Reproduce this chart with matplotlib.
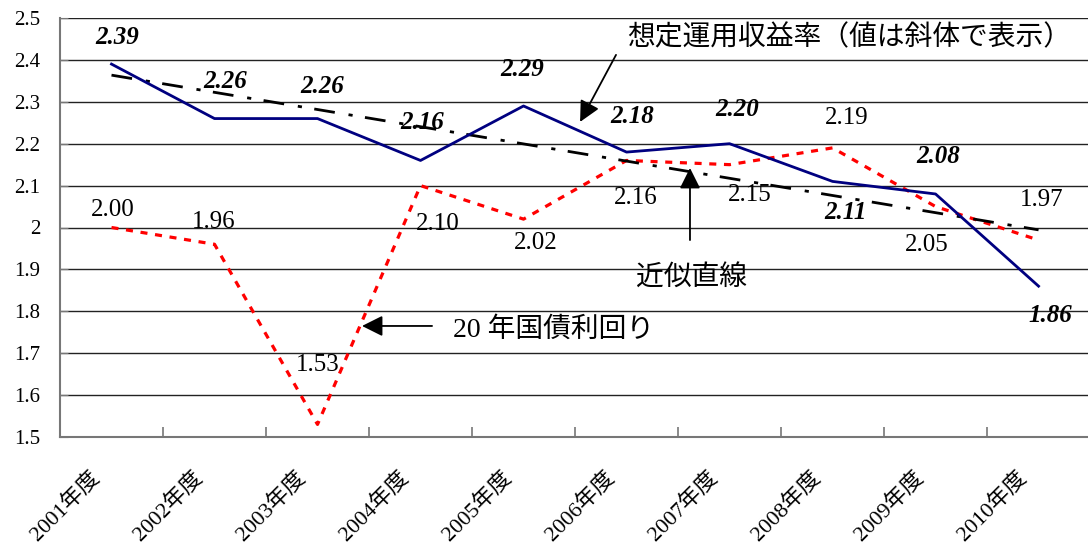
import numpy as np
import matplotlib
matplotlib.use("Agg")
import matplotlib.pyplot as plt
from matplotlib.ticker import FuncFormatter, FixedLocator
from matplotlib.transforms import ScaledTranslation

plt.rcParams['font.family'] = ['Liberation Serif', 'Noto Sans CJK JP']

# 年度と各系列の値
years = ['2001年度', '2002年度', '2003年度', '2004年度', '2005年度',
         '2006年度', '2007年度', '2008年度', '2009年度', '2010年度']
assumed_return = [2.39, 2.26, 2.26, 2.16, 2.29, 2.18, 2.20, 2.11, 2.08, 1.86]
jgb20_yield = [2.00, 1.96, 1.53, 2.10, 2.02, 2.16, 2.15, 2.19, 2.05, 1.97]

# ラベルの位置（点からのずれ, ピクセル）
ret_offsets = [(6, 27), (11, 37), (5, 32), (2, 38), (-1, 36),
               (6, 36), (8, 34), (13, -31), (3, 37), (12, -29)]
jgb_offsets = [(1, 18), (-1, 22), (0, 59), (17, -38), (12, -24),
               (9, -38), (20, -30), (14, 30), (-9, -38), (3, 40)]

x = np.arange(len(years))

fig = plt.figure(figsize=(10.88, 5.49), dpi=100)
ax = fig.add_axes([60 / 1088, (549 - 437) / 549, 1028 / 1088, 419 / 549])

# 近似直線（想定運用収益率の一次回帰）
coef = np.polyfit(x, assumed_return, 1)
trend = np.polyval(coef, x)

ax.plot(x, jgb20_yield, color='#ff0000', lw=2.3, linestyle=(0, (2.2, 2.4)), zorder=3)
ax.plot(x, trend, color='black', lw=2.0, linestyle=(0, (7.5, 5, 1.5, 4.5)), zorder=4)
ax.plot(x, assumed_return, color='#000080', lw=2.0, zorder=5)

for xi, v, (dx, dy) in zip(x, assumed_return, ret_offsets):
    ax.annotate(f'{v:.2f}', (xi, v), xytext=(dx, dy), textcoords='offset pixels',
                ha='center', va='center', fontsize=18, fontweight='bold',
                fontstyle='italic', zorder=6)
for xi, v, (dx, dy) in zip(x, jgb20_yield, jgb_offsets):
    ax.annotate(f'{v:.2f}', (xi, v), xytext=(dx, dy), textcoords='offset pixels',
                ha='center', va='center', fontsize=18, zorder=6)

# 注記と矢印
arrow = dict(arrowstyle='-|>,head_length=0.6,head_width=0.3', color='black',
             lw=1.3, mutation_scale=21, shrinkA=0, shrinkB=0)
ax.annotate('', xy=(4.549, 2.252), xytext=(4.898, 2.412), arrowprops=arrow, zorder=7)
ax.text(5.005, 2.452, '想定運用収益率（値は斜体で表示）', fontsize=20,
        ha='left', va='center')
ax.annotate('', xy=(5.616, 2.142), xytext=(5.616, 1.970), arrowprops=arrow, zorder=7)
ax.text(5.626, 1.879, '近似直線', fontsize=20, ha='center', va='center')
ax.annotate('', xy=(2.432, 1.765), xytext=(3.112, 1.765), arrowprops=arrow, zorder=7)
ax.text(3.316, 1.755, '20 年国債利回り', fontsize=20, ha='left', va='center')

ax.set_ylim(1.5, 2.5)
ax.set_xlim(-0.5, 9.48)
ax.set_yticks(np.arange(1.5, 2.51, 0.1))
ax.yaxis.set_major_formatter(FuncFormatter(lambda v, p: f'{v:g}' if abs(v - 2) > 1e-9 else '2'))
ax.grid(axis='y', color='#222222', lw=1.0)
ax.set_axisbelow(True)

ax.set_xticks(x)
ax.set_xticklabels(years, rotation=45, ha='right', va='center',
                   rotation_mode='anchor', fontsize=16)
ax.xaxis.set_minor_locator(FixedLocator(np.arange(-0.5, 10, 1.0)))
ax.tick_params(axis='x', which='major', length=0, pad=27)
ax.tick_params(axis='x', which='minor', direction='in', length=7, color='#777777', width=1.2)
ax.tick_params(axis='y', direction='in', length=6, color='#777777',
               labelsize=15, pad=14)
shift = ScaledTranslation(-15 / 100, 0, fig.dpi_scale_trans)
for lbl in ax.get_xticklabels():
    lbl.set_transform(lbl.get_transform() + shift)

for side in ['top', 'right']:
    ax.spines[side].set_visible(False)
for side in ['left', 'bottom']:
    ax.spines[side].set_color('#777777')
    ax.spines[side].set_linewidth(1.5)

fig.savefig('out.png', dpi=100)
